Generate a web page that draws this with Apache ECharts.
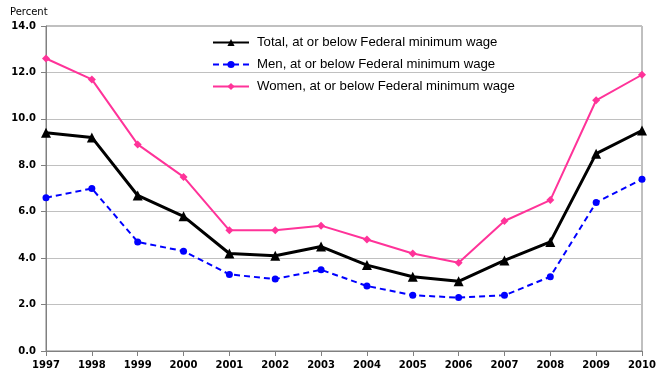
<!DOCTYPE html>
<html><head><meta charset="utf-8">
<script src="https://cdn.jsdelivr.net/npm/echarts@6/dist/echarts.min.js"></script>
<style>html,body{margin:0;padding:0;background:#fff}#c{width:666px;height:386px}</style>
</head><body><div id="c"></div>
<script>
var years = ['1997','1998','1999','2000','2001','2002','2003','2004','2005','2006','2007','2008','2009','2010'];
var total = [9.4, 9.2, 6.7, 5.8, 4.2, 4.1, 4.5, 3.7, 3.2, 3.0, 3.9, 4.7, 8.5, 9.5];
var men   = [6.6, 7.0, 4.7, 4.3, 3.3, 3.1, 3.5, 2.8, 2.4, 2.3, 2.4, 3.2, 6.4, 7.4];
var women = [12.6, 11.7, 8.9, 7.5, 5.2, 5.2, 5.4, 4.8, 4.2, 3.8, 5.6, 6.5, 10.8, 11.9];
var seriesNames = ['Total, at or below Federal minimum wage','Men, at or below Federal minimum wage','Women, at or below Federal minimum wage'];

var chart = echarts.init(document.getElementById('c'), null, {renderer:'canvas'});
chart.setOption({
  animation:false,
  grid:{left:46,right:24,top:26,bottom:35,show:true,borderColor:'#808080',borderWidth:1,backgroundColor:'transparent'},
  graphic:[{type:'text',left:10,top:7,style:{text:'Percent',font:'10px "DejaVu Sans"',fill:'#000'}}],
  legend:{orient:'vertical',left:207,top:31,itemWidth:36,itemHeight:9,itemGap:9,
    textStyle:{fontFamily:'Liberation Sans',fontSize:13.2,color:'#000',padding:[0,0,0,3]},
    data:seriesNames},
  xAxis:{type:'category',data:years,boundaryGap:false,
    axisLine:{lineStyle:{color:'#808080',width:1}},
    axisTick:{show:true,length:5,lineStyle:{color:'#808080'}},
    axisLabel:{fontFamily:'DejaVu Sans',fontWeight:'bold',fontSize:10,color:'#000',margin:9}},
  yAxis:{type:'value',min:0,max:14,interval:2,
    axisLine:{show:true,lineStyle:{color:'#808080',width:1}},
    axisTick:{show:true,length:5,lineStyle:{color:'#808080'}},
    splitLine:{lineStyle:{color:'#c0c0c0',width:1}},
    axisLabel:{fontFamily:'DejaVu Sans',fontWeight:'bold',fontSize:10,color:'#000',margin:10,
      formatter:function(v){return v.toFixed(1);}}},
  series:[
    {name:seriesNames[0],type:'line',data:total,symbol:'triangle',symbolSize:10,
      lineStyle:{color:'#000',width:3},itemStyle:{color:'#000'},z:3},
    {name:seriesNames[1],type:'line',data:men,symbol:'circle',symbolSize:7,
      lineStyle:{color:'#0000ff',width:2,type:[6,4]},itemStyle:{color:'#0000ff'},z:2},
    {name:seriesNames[2],type:'line',data:women,symbol:'diamond',symbolSize:8,
      lineStyle:{color:'#ff3399',width:2},itemStyle:{color:'#ff3399'},z:2}
  ]
});
</script></body></html>
